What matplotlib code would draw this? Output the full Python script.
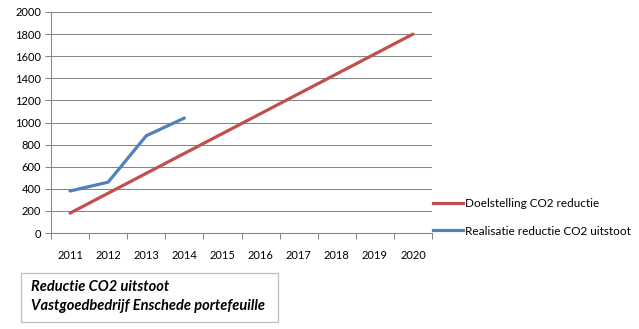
import matplotlib
matplotlib.use("Agg")
import matplotlib.pyplot as plt
from matplotlib.patches import Rectangle
from matplotlib.lines import Line2D

years = ["2011", "2012", "2013", "2014", "2015", "2016", "2017", "2018", "2019", "2020"]
doel = [180, 360, 540, 720, 900, 1080, 1260, 1440, 1620, 1800]
realisatie = [380, 460, 880, 1040]
yticks = [0, 200, 400, 600, 800, 1000, 1200, 1400, 1600, 1800, 2000]
label_doel = "Doelstelling CO2 reductie"
label_real = "Realisatie reductie CO2 uitstoot"
title_lines = ["Reductie CO2 uitstoot", "Vastgoedbedrijf Enschede portefeuille"]

W, H = 639, 329
fig = plt.figure(figsize=(W / 100, H / 100), dpi=100)
fig.patch.set_facecolor("white")

left, right, top, bottom = 51, 432, 12, 233
ax = fig.add_axes([left / W, 1 - bottom / H, (right - left) / W, (bottom - top) / H])

red = "#C0504D"
blue = "#4F81BD"
grid = "#868686"
fam = ["Lato", "DejaVu Sans"]

x = list(range(len(years)))
ax.plot(x, doel, color=red, lw=2.3, solid_capstyle="round")
ax.plot(x[:len(realisatie)], realisatie, color=blue, lw=2.3, solid_capstyle="round", solid_joinstyle="round")

ax.set_xlim(-0.5, len(years) - 0.5)
ax.set_ylim(0, 2000)
ax.set_yticks(yticks)
ax.set_yticklabels([str(v) for v in yticks], fontsize=8, family=fam)
ax.set_xticks([i - 0.5 for i in range(len(years) + 1)])
ax.set_xticklabels([])
ax.set_xticks(x, minor=True)
ax.set_xticklabels(years, minor=True, fontsize=8, family=fam)
ax.tick_params(axis="x", which="major", length=4, color=grid, width=0.75, direction="out")
ax.tick_params(axis="x", which="minor", length=0, pad=12)
ax.tick_params(axis="y", length=4, color=grid, width=0.75, pad=3)
ax.yaxis.grid(True, color=grid, lw=0.75)
ax.set_axisbelow(True)
for s in ["top", "right"]:
    ax.spines[s].set_visible(False)
ax.spines["left"].set_color(grid)
ax.spines["bottom"].set_color(grid)
ax.spines["left"].set_linewidth(0.75)
ax.spines["bottom"].set_linewidth(0.75)

# legend
handles = [Line2D([], [], color=red, lw=2.3), Line2D([], [], color=blue, lw=2.3)]
leg = fig.legend(handles, [label_doel, label_real], loc="upper left",
                 bbox_to_anchor=(433 / W, 1 - 198 / H), frameon=False,
                 prop={"family": fam, "size": 8.5}, handlelength=2.5, handletextpad=0.2,
                 labelspacing=1.4, borderaxespad=0, borderpad=0)

# title box
fig.patches.append(Rectangle((21 / W, 1 - 322 / H), (278 - 21) / W, (322 - 273) / H,
                             transform=fig.transFigure, fill=False, edgecolor="#BFBFBF", lw=0.9))
fig.text(31 / W, 1 - 287 / H, title_lines[0], fontsize=10.5, style="italic", weight="bold",
         family=fam, va="center", ha="left")
fig.text(31 / W, 1 - 306 / H, title_lines[1], fontsize=10.5, style="italic", weight="bold",
         family=fam, va="center", ha="left")

fig.savefig("out.png", dpi=100)
